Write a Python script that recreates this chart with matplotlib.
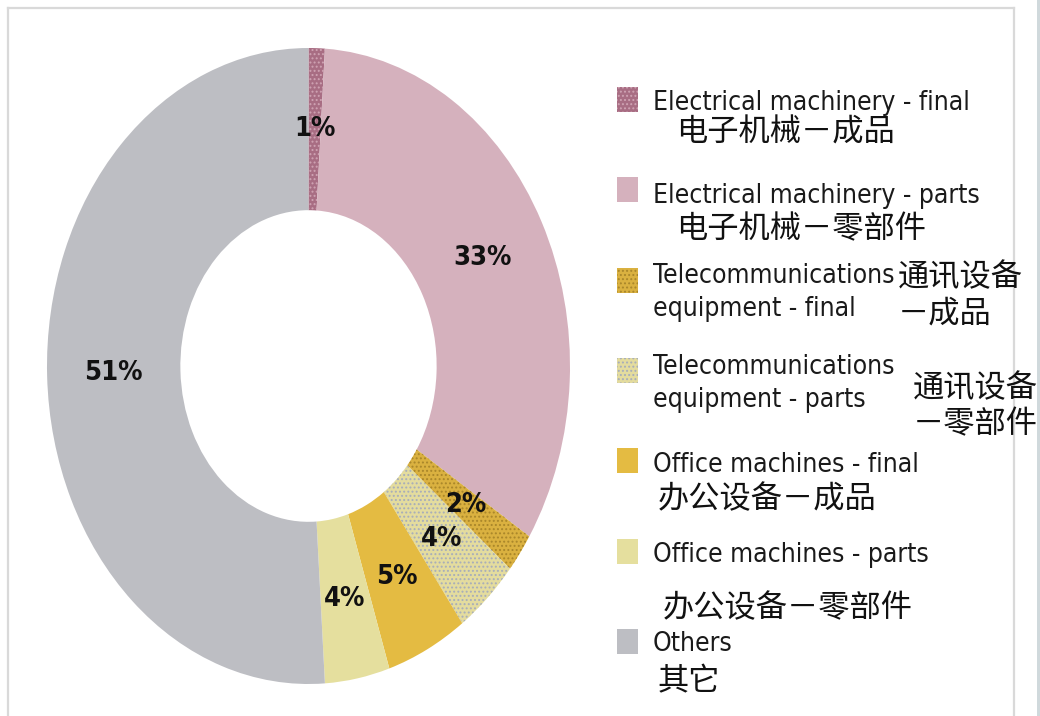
import matplotlib
matplotlib.use("Agg")
import matplotlib.pyplot as plt
from matplotlib import font_manager as fm
from matplotlib.patches import Rectangle
from matplotlib.lines import Line2D

# ---------------- data ----------------
categories_en = [
    "Electrical machinery - final",
    "Electrical machinery - parts",
    "Telecommunications\nequipment - final",
    "Telecommunications\nequipment - parts",
    "Office machines - final",
    "Office machines - parts",
    "Others",
]
categories_zh = [
    "电子机械－成品",
    "电子机械－零部件",
    "通讯设备\n－成品",
    "通讯设备\n－零部件",
    "办公设备－成品",
    "办公设备－零部件",
    "其它",
]
shares = [1, 33, 2, 4, 5, 4, 51]

colors = ["#a86d83", "#d5b1bd", "#dab140", "#e4dc9e", "#e4bb42", "#e5df9e", "#bdbec3"]
hatches = ["....", None, "....", "....", None, None, None]
hatch_colors = ["#cfa3b3", None, "#a9862a", "#a7adba", None, None, None]

# ---------------- fonts ----------------
names = {f.name for f in fm.fontManager.ttflist}
if "Liberation Sans Narrow" in names:
    EN = dict(family=["Liberation Sans Narrow", "DejaVu Sans"])
else:
    EN = dict(family=["DejaVu Sans"], fontstretch="condensed")
ZH = dict(family=["Noto Sans CJK SC", "DejaVu Sans"])

plt.rcParams["hatch.linewidth"] = 0.9

W, H = 1040, 716
fig = plt.figure(figsize=(W / 100, H / 100), dpi=100)
fig.patch.set_facecolor("white")


def fx(px):
    return px / W


def fy(py):
    return 1 - py / H


# ---------------- frame ----------------
fc = "#d9d9d9"
fig.add_artist(Line2D([fx(8), fx(1014)], [fy(8), fy(8)], color=fc, lw=1.6))
fig.add_artist(Line2D([fx(8), fx(8)], [fy(8), fy(716)], color=fc, lw=1.6))
fig.add_artist(Line2D([fx(1014), fx(1014)], [fy(8), fy(716)], color=fc, lw=1.6))
fig.add_artist(Rectangle((fx(1037), 0), fx(3), 1, transform=fig.transFigure,
                         facecolor="#d0d9dc", edgecolor="none"))

# ---------------- donut ----------------
ax = fig.add_axes([fx(47), fy(684), fx(523), 636 / H])
wedges, texts, autotexts = ax.pie(
    shares, colors=colors, startangle=90, counterclock=False, radius=1.0,
    wedgeprops=dict(width=0.51, linewidth=0),
    autopct="%.0f%%", pctdistance=0.745,
    textprops=dict(fontsize=19.5, color="#111111", fontweight="bold", **EN),
)
for w, h, hc in zip(wedges, hatches, hatch_colors):
    if h:
        w.set_hatch(h)
        w.set_edgecolor(hc)
        w.set_linewidth(0)
ax.set_aspect("auto")
ax.set_xlim(-1, 1)
ax.set_ylim(-1, 1)
ax.axis("off")

# ---------------- legend ----------------
sq_tops = [87, 177, 268, 358, 448, 539, 629]
en_baselines = [110, 203, 316, 407, 472, 562, 651]
zh_pos = [
    (676, 133), (676, 229), (898, 295), (913, 406), (658, 499), (663, 608), (658, 681)
]
for i in range(len(categories_en)):
    r = Rectangle((fx(617), fy(sq_tops[i] + 25)), fx(21), 25 / H,
                  transform=fig.transFigure, facecolor=colors[i],
                  edgecolor=hatch_colors[i] if hatches[i] else "none",
                  hatch=hatches[i], linewidth=0)
    fig.add_artist(r)
    fig.text(fx(653), fy(en_baselines[i]), categories_en[i], fontsize=19,
             color="#1a1a1a", ha="left", va="baseline", linespacing=1.35, **EN)
    zx, zy = zh_pos[i]
    fig.text(fx(zx), fy(zy), categories_zh[i], fontsize=22.5, color="#111111",
             ha="left", va="center", linespacing=1.2, **ZH)

fig.savefig("out.png", dpi=100)
